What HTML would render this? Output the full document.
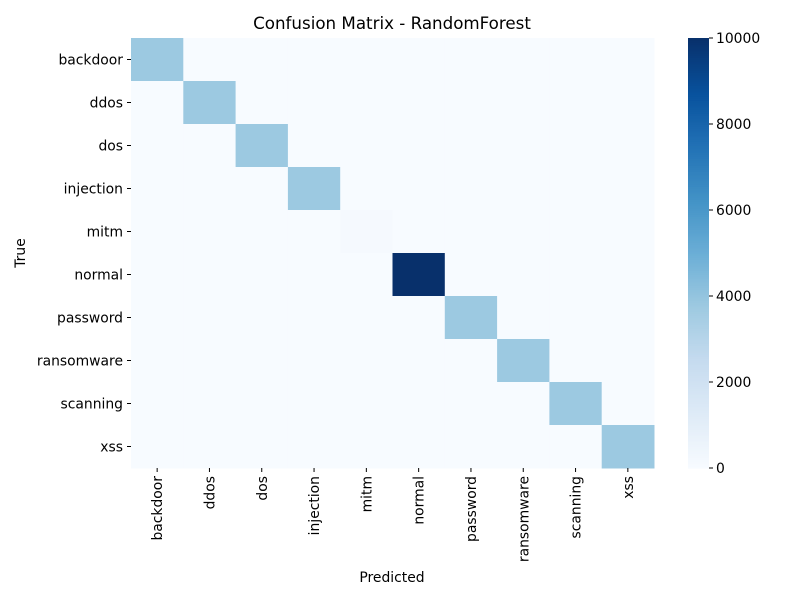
<!DOCTYPE html>
<html><head><meta charset="utf-8"><style>body{margin:0;background:#fff}text{font-family:"DejaVu Sans","Liberation Sans",sans-serif;fill:#000}</style></head>
<body>
<svg id="chart" width="800" height="600" xmlns="http://www.w3.org/2000/svg">
<text x="392" y="29" font-size="16.7" text-anchor="middle">Confusion Matrix - RandomForest</text>
<g id="cells"></g><g id="xt"></g><g id="yt"></g><g id="cb"></g>
<text x="392" y="582" font-size="13.9" text-anchor="middle">Predicted</text>
<text x="25" y="253" font-size="13.9" text-anchor="middle" transform="rotate(-90 25 253)">True</text>
</svg>
<script>
const labels=["backdoor","ddos","dos","injection","mitm","normal","password","ransomware","scanning","xss"];
const diagValues=[3800,3800,3800,3800,120,10000,3800,3800,3800,3800];
const cbTicks=[0,2000,4000,6000,8000,10000];
const vmax=10000;
const stops=["#f7fbff","#deebf7","#c6dbef","#9ecae1","#6baed6","#4292c6","#2171b5","#08519c","#08306b"];
function hx(c){return [1,3,5].map(i=>parseInt(c.substr(i,2),16));}
function cmap(v){let t=Math.max(0,Math.min(1,v/vmax))*(stops.length-1);let i=Math.min(Math.floor(t),stops.length-2),f=t-i;const a=hx(stops[i]),b=hx(stops[i+1]);return "rgb("+a.map((x,k)=>Math.round(x+(b[k]-x)*f)).join(",")+")";}
const L=131,T=38,W=523,H=430,n=labels.length,cw=W/n,ch=H/n;
const xs=i=>L+i*cw, ys=i=>T+i*ch;
const NS="http://www.w3.org/2000/svg";
function mk(tag,at,par){const e=document.createElementNS(NS,tag);for(const k in at)e.setAttribute(k,at[k]);document.getElementById(par).appendChild(e);return e;}
for(let r=0;r<n;r++)for(let c=0;c<n;c++){const v=r===c?diagValues[r]:0;
const e=mk("rect",{x:xs(c),y:ys(r),width:cw+0.5,height:ch+0.5,fill:cmap(v)},"cells");

}
labels.forEach((l,i)=>{const cx=xs(i)+cw/2;
mk("line",{x1:cx,y1:T+H,x2:cx,y2:T+H+4,stroke:"#000"},"xt");
const t=mk("text",{x:cx+5,y:T+H+8,"font-size":13.9,"text-anchor":"end",transform:"rotate(-90 "+(cx+5)+" "+(T+H+8)+")"},"xt");t.textContent=l;


const cy=ys(i)+ch/2;
mk("line",{x1:L-4,y1:cy,x2:L,y2:cy,stroke:"#000"},"yt");
const u=mk("text",{x:L-8,y:cy+5,"font-size":13.9,"text-anchor":"end"},"yt");u.textContent=l;

});
const CX=688,CW=21;const cbY=v=>T+H-v/vmax*H;
for(let k=0;k<200;k++){const v0=k/200*vmax,v1=(k+1)/200*vmax;
mk("rect",{x:CX,y:cbY(v1),width:CW,height:cbY(v0)-cbY(v1)+0.6,fill:cmap((v0+v1)/2)},"cb");}
const bar=mk("rect",{x:CX,y:T,width:CW,height:H,fill:"none"},"cb");


cbTicks.forEach(v=>{const y=cbY(v);mk("line",{x1:CX+CW,y1:y,x2:CX+CW+4,y2:y,stroke:"#000"},"cb");
const t=mk("text",{x:CX+CW+7,y:y+5,"font-size":13.9},"cb");t.textContent=v;

});
</script>
</body></html>
